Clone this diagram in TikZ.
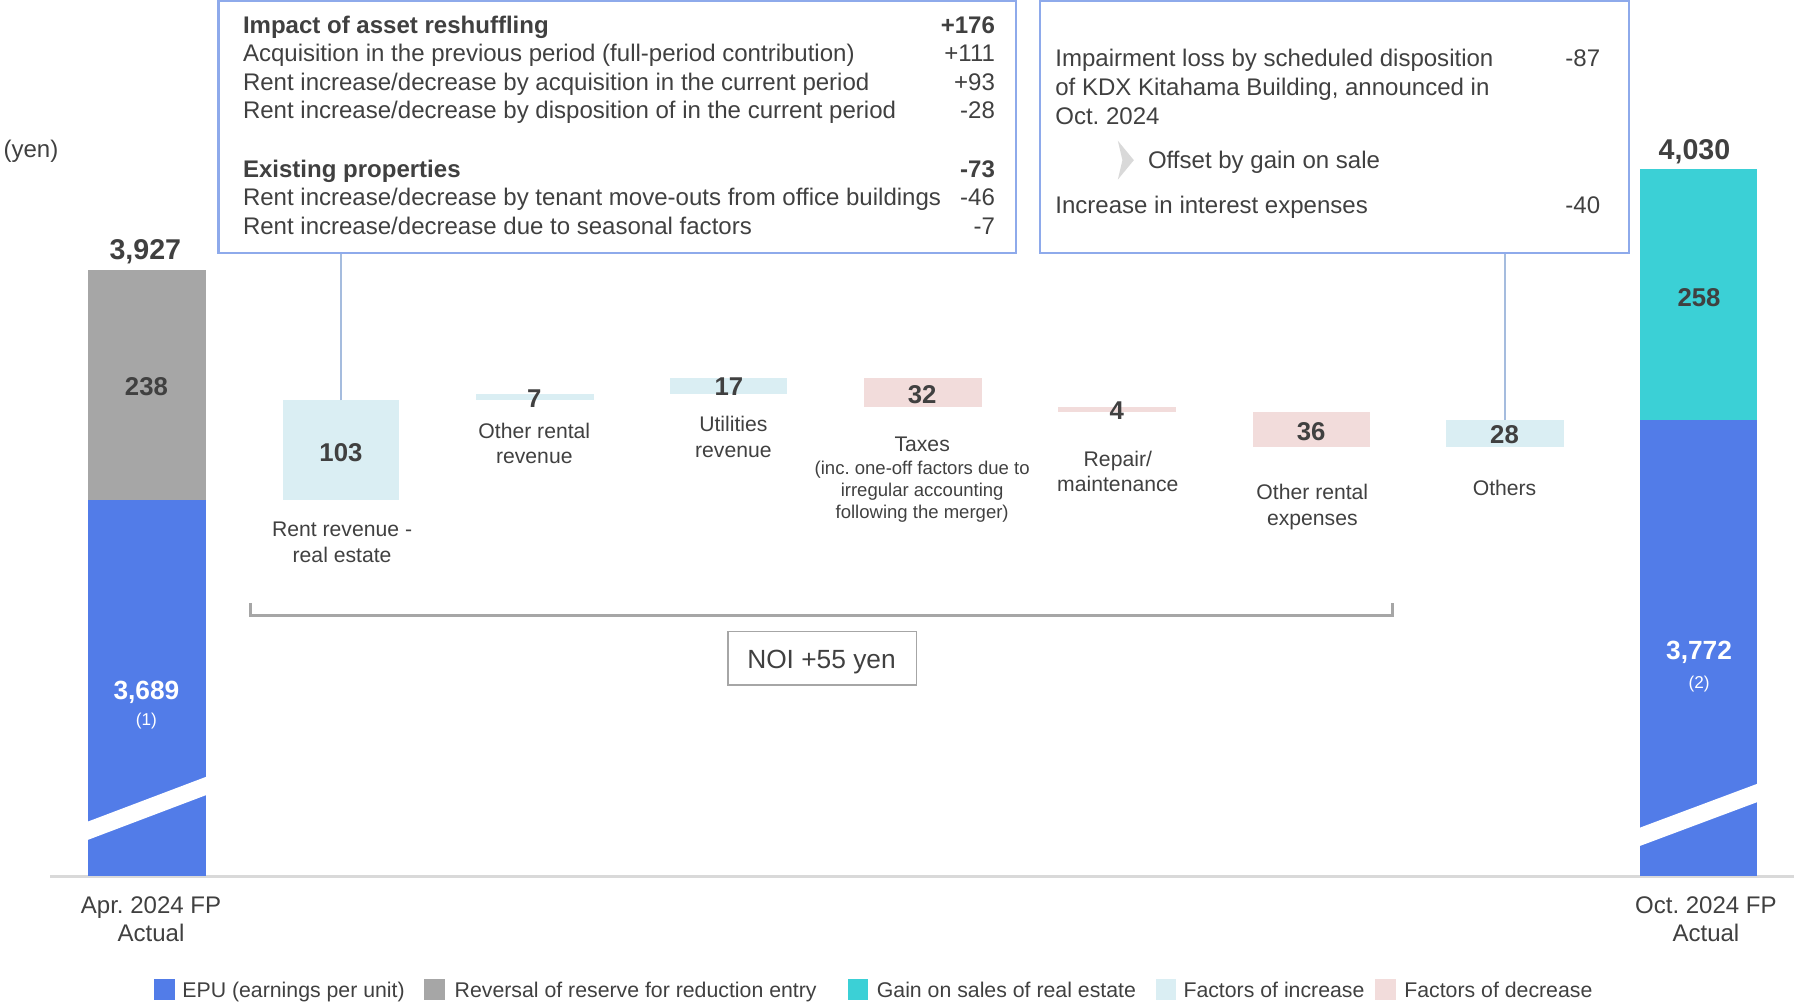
\documentclass[tikz,border=0pt]{standalone}
\usepackage{fontspec}
\setmainfont{Liberation Sans}
\usetikzlibrary{fit}
\definecolor{txt}{RGB}{64,64,64}
\definecolor{epu}{RGB}{82,124,232}
\definecolor{rev}{RGB}{166,166,166}
\definecolor{gain}{RGB}{59,208,214}
\definecolor{inc}{RGB}{218,238,243}
\definecolor{dec}{RGB}{242,220,219}
\definecolor{boxc}{RGB}{142,170,235}
\definecolor{conn}{RGB}{165,188,222}
\definecolor{brk}{RGB}{166,166,166}
\definecolor{axisc}{RGB}{217,217,217}
\definecolor{chev}{RGB}{217,217,217}
\newcommand\fsz[1]{\fontsize{#1}{#1}\selectfont}
\frenchspacing
\begin{document}
\begin{tikzpicture}[x=0.5pt,y=-0.5pt,
  t/.style={anchor=base,inner sep=0,text=txt},
  tl/.style={anchor=base west,inner sep=0,text=txt},
  tr/.style={anchor=base east,inner sep=0,text=txt},
  barbox/.style={inner sep=0,outer sep=0},
  infobox/.style={draw=boxc,line width=1pt,inner sep=0},
  boxtext/.style={font=\fsz{10.5}},
  boxbold/.style={font=\bfseries\fsz{10.5}},
  valtxt/.style={t,font=\bfseries\fsz{11.25}},
  cattxt/.style={t,font=\fsz{9.25}},
  subtxt/.style={t,font=\fsz{8.1}},
  legtxt/.style={tl,font=\fsz{9.3}},
  conline/.style={draw=conn,line width=1pt},
]
\useasboundingbox (0,0) rectangle (1568,877);

% axis
\coordinate (axL) at (44,766);
\coordinate (axR) at (1568,766);
\draw[axisc,line width=1pt] (axL) -- (axR);

% left total bar
\node[barbox,fill=rev,fit={(77,236)(180,437)}] (b0g) {};
\node[barbox,fill=epu,fit={(77,437)(180,766)}] (b0b) {};
\fill[white] (77,718) -- (180,679) -- (180,695) -- (77,734) -- cycle;
\node[t,font=\bfseries\fsz{12.5}] (tot0) at (127,226.5) {3,927};
\node[valtxt] (v0g) at (128,346) {238};
\node[valtxt,text=white,font=\bfseries\fsz{11.5}] (v0b) at (128,611) {3,689};
\node[t,text=white,font=\fsz{7.5}] (n1) at (128,634.5) {(1)};

% right total bar
\node[barbox,fill=gain,fit={(1433,148)(1536,367)}] (b8c) {};
\node[barbox,fill=epu,fit={(1433,367)(1536,766)}] (b8b) {};
\fill[white] (1433,723.5) -- (1536,685) -- (1536,701) -- (1433,739.5) -- cycle;
\node[t,font=\bfseries\fsz{12.5}] (tot8) at (1481,139.5) {4,030};
\node[valtxt] (v8c) at (1485,268) {258};
\node[valtxt,text=white,font=\bfseries\fsz{11.5}] (v8b) at (1485,576) {3,772};
\node[t,text=white,font=\fsz{7.5}] (n2) at (1485,601.5) {(2)};

% waterfall bars
\node[barbox,fill=inc,fit={(247,350)(349,437)}] (b1) {};
\node[barbox,fill=inc,fit={(416,344)(519,350)}] (b2) {};
\node[barbox,fill=inc,fit={(586,330)(688,344)}] (b3) {};
\node[barbox,fill=dec,fit={(755,330)(858,356)}] (b4) {};
\node[barbox,fill=dec,fit={(925,356)(1028,360)}] (b5) {};
\node[barbox,fill=dec,fit={(1095,360)(1197,391)}] (b6) {};
\node[barbox,fill=inc,fit={(1264,367)(1367,391)}] (b7) {};

\node[valtxt] (v1) at (298,403) {103};
\node[valtxt] (v2) at (467,356) {7};
\node[valtxt] (v3) at (637,346) {17};
\node[valtxt] (v4) at (806,353) {32};
\node[valtxt] (v5) at (976,367) {4};
\node[valtxt] (v6) at (1146,385) {36};
\node[valtxt] (v7) at (1315,388) {28};

\node[cattxt] (c1a) at (299,468.5) {Rent revenue -};
\node[cattxt] (c1b) at (299,491.5) {real estate};
\node[cattxt] (c2a) at (467,383.5) {Other rental};
\node[cattxt] (c2b) at (467,405.5) {revenue};
\node[cattxt] (c3a) at (641,377.5) {Utilities};
\node[cattxt] (c3b) at (641,399.5) {revenue};
\node[cattxt] (c4a) at (806,394.5) {Taxes};
\node[subtxt] (c4b) at (806,414.5) {(inc. one-off factors due to};
\node[subtxt] (c4c) at (806,434) {irregular accounting};
\node[subtxt] (c4d) at (806,453.5) {following the merger)};
\node[cattxt] (c5a) at (977,407.5) {Repair/};
\node[cattxt] (c5b) at (977,429.5) {maintenance};
\node[cattxt] (c6a) at (1147,436.5) {Other rental};
\node[cattxt] (c6b) at (1147,459.5) {expenses};
\node[cattxt] (c7a) at (1315,433.5) {Others};

% info boxes
\node[infobox,fit={(191,1)(888,221)}] (boxL) {};
\node[infobox,fit={(909,1)(1424,221)}] (boxR) {};

\node[tl,boxbold] (l1) at (212,29) {Impact of asset reshuffling};
\node[tr,boxbold] (r1) at (870,29) {+176};
\node[tl,boxtext] (l2) at (212,54) {Acquisition in the previous period (full-period contribution)};
\node[tr,boxtext] (r2) at (870,54) {+111};
\node[tl,boxtext] (l3) at (212,79) {Rent increase/decrease by acquisition in the current period};
\node[tr,boxtext] (r3) at (870,79) {+93};
\node[tl,boxtext] (l4) at (212,104) {Rent increase/decrease by disposition of in the current period};
\node[tr,boxtext] (r4) at (870,104) {-28};
\node[tl,boxbold] (l5) at (212,155) {Existing properties};
\node[tr,boxbold] (r5) at (870,155) {-73};
\node[tl,boxtext] (l6) at (212,180) {Rent increase/decrease by tenant move-outs from office buildings};
\node[tr,boxtext] (r6) at (870,180) {-46};
\node[tl,boxtext] (l7) at (212,205) {Rent increase/decrease due to seasonal factors};
\node[tr,boxtext] (r7) at (870,205) {-7};

\node[tl,boxtext] (m1) at (922,58.5) {Impairment loss by scheduled disposition};
\node[tr,boxtext] (q1) at (1399,58.5) {-87};
\node[tl,boxtext] (m2) at (922,83.5) {of KDX Kitahama Building, announced in};
\node[tl,boxtext] (m3) at (922,108.5) {Oct. 2024};
\fill[chev] (977,123) -- (991,140) -- (977,157) -- (981,140) -- cycle;
\node[tl,boxtext] (m4) at (1003,147.5) {Offset by gain on sale};
\node[tl,boxtext] (m5) at (922,186.5) {Increase in interest expenses};
\node[tr,boxtext] (q5) at (1399,186.5) {-40};

% connectors
\draw[conline] (b1.north) -- (b1.north |- boxL.south);
\draw[conline] (b7.north) -- (b7.north |- boxR.south);

% NOI bracket
\coordinate (brA) at (219,527);
\coordinate (brB) at (1217,527);
\draw[brk,line width=1pt] (brA) -- (219,538) -- (1217,538) -- (brB);
\node[draw=brk,line width=0.8pt,inner sep=0,fit={(636,552)(801,599)}] (noi) {};
\node[t,font=\fsz{11.5}] (noit) at (718,584.5) {NOI +55 yen};

% units and axis labels
\node[t,font=\fsz{10.5}] (yen) at (27,138) {(yen)};
\node[t,font=\fsz{10.5}] (ax1a) at (132,798) {Apr. 2024 FP};
\node[t,font=\fsz{10.5}] (ax1b) at (132,823) {Actual};
\node[t,font=\fsz{10.5}] (ax2a) at (1491,798) {Oct. 2024 FP};
\node[t,font=\fsz{10.5}] (ax2b) at (1491,823) {Actual};

% legend
\node[barbox,fill=epu,fit={(135,856)(153,874)}] (lg1) {};
\node[legtxt] (lt1) at (159,872) {EPU (earnings per unit)};
\node[barbox,fill=rev,fit={(371,856)(389,874)}] (lg2) {};
\node[legtxt] (lt2) at (397,872) {Reversal of reserve for reduction entry};
\node[barbox,fill=gain,fit={(741,856)(759,874)}] (lg3) {};
\node[legtxt] (lt3) at (766,872) {Gain on sales of real estate};
\node[barbox,fill=inc,fit={(1010,856)(1028,874)}] (lg4) {};
\node[legtxt] (lt4) at (1034,872) {Factors of increase};
\node[barbox,fill=dec,fit={(1202,856)(1220,874)}] (lg5) {};
\node[legtxt] (lt5) at (1227,872) {Factors of decrease};
\end{tikzpicture}
\end{document}
